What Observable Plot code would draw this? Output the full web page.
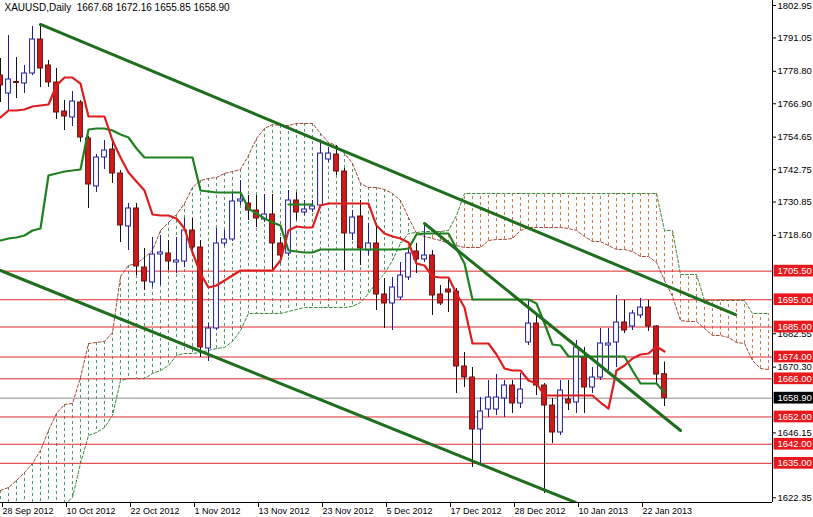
<!DOCTYPE html>
<html><head><meta charset="utf-8">
<script src="https://cdn.jsdelivr.net/npm/d3@7"></script>
<script src="https://cdn.jsdelivr.net/npm/@observablehq/plot@0.6"></script>
<style>body{margin:0;background:#fff}#chart svg{display:block}</style>
</head><body><div id="chart"></div>
<script>
// ---- data (bar index 0 = 28 Sep 2012, one bar per trading day) ----
const symbol = "XAUUSD,Daily";
const tickBars = [0, 8, 16, 24, 32, 40, 48, 56, 64, 72, 80];
const tickLabels = ["28 Sep 2012","10 Oct 2012","22 Oct 2012","1 Nov 2012","13 Nov 2012","23 Nov 2012","5 Dec 2012","17 Dec 2012","28 Dec 2012","10 Jan 2013","22 Jan 2013"];
const priceTicks = [1802.95,1791.05,1778.80,1766.90,1754.65,1742.75,1730.85,1718.60,1682.55,1670.30,1646.15,1622.35];
const levels = [1705.50,1695.00,1685.00,1674.00,1666.00,1652.00,1642.00,1635.00];
const bid = 1658.90;

const open = [1777.27,1770.66,1774.88,1774.33,1778.00,1790.47,1780.94,1774.70,1764.06,1761.86,
1767.36,1754.16,1736.55,1747.19,1750.12,1741.32,1721.87,1728.48,1706.83,1701.33,
1711.60,1711.97,1708.67,1709.03,1720.41,1714.17,1677.12,1684.46,1715.64,1717.11,
1731.05,1730.31,1727.74,1724.44,1726.28,1715.64,1711.97,1731.41,1727.01,1728.11,
1729.58,1746.45,1748.29,1742.05,1719.31,1725.54,1713.07,1715.64,1696.93,1693.63,
1695.83,1703.17,1712.70,1709.77,1711.24,1696.93,1698.76,1698.03,1670.52,1666.48,
1647.41,1654.74,1654.74,1658.78,1663.55,1656.94,1679.32,1686.29,1663.55,1656.21,
1646.31,1658.41,1657.31,1673.82,1662.81,1666.48,1678.22,1679.32,1686.66,1685.19,
1689.23,1692.16,1685.19,1667.68];
const high = [1783.50,1791.94,1783.87,1780.94,1795.24,1795.98,1782.77,1779.83,1768.10,1771.40,
1768.10,1754.89,1748.29,1753.42,1753.42,1742.42,1730.31,1730.31,1713.80,1717.84,
1718.57,1716.74,1717.84,1724.81,1724.81,1716.74,1686.29,1721.14,1720.41,1734.35,
1738.75,1733.25,1733.25,1733.61,1733.61,1717.84,1735.08,1734.35,1731.41,1731.41,
1753.42,1750.85,1751.59,1743.15,1727.74,1731.41,1722.97,1722.97,1702.80,1703.17,
1708.67,1714.17,1715.64,1722.97,1713.07,1700.23,1703.17,1699.13,1675.65,1670.15,
1659.14,1665.38,1667.58,1665.38,1665.38,1667.95,1694.73,1689.23,1664.28,1658.78,
1665.38,1665.38,1680.05,1677.49,1670.15,1684.46,1684.46,1696.56,1694.73,1691.06,
1695.46,1694.73,1685.56,1672.16];
const low = [1767.36,1764.43,1768.83,1770.66,1777.27,1772.86,1772.86,1761.13,1757.09,1758.56,
1752.69,1728.48,1734.35,1742.78,1737.65,1716.01,1713.07,1703.90,1698.40,1699.50,
1700.23,1705.73,1704.63,1706.83,1713.07,1673.82,1672.35,1683.72,1714.54,1716.37,
1729.58,1724.08,1721.51,1723.34,1705.73,1708.30,1710.87,1724.08,1725.91,1727.01,
1728.84,1745.35,1740.58,1705.73,1716.74,1707.57,1711.24,1691.06,1684.46,1683.72,
1694.73,1702.06,1704.63,1708.67,1689.23,1692.89,1690.33,1660.61,1662.81,1633.47,
1634.93,1651.81,1652.54,1651.81,1653.28,1655.11,1678.22,1659.88,1623.93,1642.27,
1645.20,1654.38,1653.28,1653.28,1660.61,1665.38,1669.05,1670.15,1682.62,1683.72,
1688.12,1683.36,1664.28,1655.85];
const close = [1773.60,1775.80,1774.52,1778.00,1790.47,1779.83,1774.70,1763.69,1762.23,1767.73,
1754.52,1737.28,1747.19,1749.75,1741.32,1722.24,1728.48,1707.20,1701.70,1711.60,
1712.34,1709.03,1709.40,1720.41,1714.17,1677.49,1684.46,1715.64,1717.11,1731.05,
1731.78,1727.74,1724.81,1726.28,1715.64,1711.24,1731.41,1727.01,1728.11,1729.21,
1748.65,1748.65,1742.05,1719.31,1725.18,1713.80,1715.64,1696.93,1693.63,1699.50,
1703.90,1711.97,1709.77,1711.24,1696.56,1693.63,1697.66,1670.52,1666.48,1647.41,
1654.01,1659.14,1659.14,1663.55,1656.94,1662.08,1686.29,1663.55,1656.21,1646.31,
1661.71,1656.94,1677.49,1662.81,1666.48,1678.95,1678.95,1686.66,1683.72,1689.96,
1692.16,1685.19,1667.58,1658.90];

const tenkan = [1761.86,1764.43,1764.43,1764.79,1765.89,1766.26,1766.63,1773.60,1776.53,1776.53,
1774.33,1762.23,1762.23,1762.23,1753.42,1747.19,1741.68,1738.38,1735.08,1726.28,
1725.91,1725.91,1724.81,1721.14,1712.34,1704.63,1699.50,1700.23,1702.06,1703.90,
1705.73,1705.73,1705.73,1705.73,1705.73,1709.40,1720.41,1721.87,1721.51,1721.51,
1729.58,1730.31,1730.31,1730.31,1730.31,1730.31,1730.31,1722.24,1719.31,1718.21,
1717.47,1716.01,1708.30,1707.57,1703.53,1703.17,1703.17,1697.30,1692.16,1678.95,
1678.95,1678.95,1674.92,1669.78,1669.05,1669.05,1665.38,1664.28,1659.88,1659.88,
1659.88,1659.88,1659.88,1659.88,1659.88,1657.31,1655.11,1669.05,1670.88,1673.45,
1674.92,1675.29,1677.85,1676.02];
const kijun = [1716.74,1717.47,1717.84,1718.57,1720.41,1721.14,1740.58,1741.32,1742.05,1742.42,
1742.78,1757.46,1757.82,1757.82,1757.09,1755.62,1754.52,1750.49,1747.19,1747.19,
1747.19,1747.19,1747.19,1747.19,1747.19,1735.08,1734.71,1734.35,1734.35,1734.35,
1734.35,1728.48,1726.64,1724.81,1723.34,1722.24,1713.07,1712.70,1712.34,1712.34,
1713.44,1713.44,1713.44,1713.44,1713.44,1713.44,1713.44,1713.44,1713.44,1713.44,
1713.44,1713.80,1718.94,1719.31,1719.31,1719.31,1719.31,1713.80,1708.30,1695.09,
1695.09,1695.09,1695.09,1695.09,1695.09,1695.09,1695.09,1693.63,1686.29,1678.59,
1678.22,1674.18,1674.18,1674.18,1674.18,1674.18,1674.18,1674.18,1674.18,1669.05,
1664.28,1664.28,1664.28,1660.98];
const extraBars = [36, 39];
const extraPrices = [1729.94, 1729.94];

const spanA = [1625.03,1626.13,1628.70,1631.63,1634.93,1639.70,1647.04,1653.28,1656.58,1656.94,
1666.48,1678.95,1679.32,1679.69,1682.99,1703.53,1707.57,1708.30,1710.50,1713.07,
1720.41,1723.34,1726.28,1730.31,1736.18,1738.75,1739.48,1739.85,1741.32,1742.05,
1742.78,1747.92,1754.16,1757.82,1759.29,1758.93,1758.93,1759.66,1759.66,1759.66,
1755.99,1752.69,1751.59,1748.65,1744.99,1737.65,1736.18,1736.18,1735.45,1733.98,
1731.41,1725.18,1719.31,1718.21,1717.47,1716.74,1715.64,1714.90,1714.17,1714.17,
1714.17,1716.74,1717.11,1717.11,1717.47,1720.41,1721.51,1721.51,1721.51,1721.51,
1721.51,1721.14,1720.41,1718.21,1716.37,1716.37,1714.90,1713.44,1713.44,1712.70,
1710.87,1710.87,1708.67,1702.06,1696.20,1687.39,1687.02,1687.02,1684.46,1681.89,
1681.89,1681.16,1679.32,1678.95,1672.72,1669.78,1669.42];
const spanB = [1606,1607,1608,1610,1612,1614,1616,1618,1620,1622.46,
1634.93,1645.20,1646.31,1648.14,1652.54,1665.38,1666.11,1666.11,1666.11,1667.95,
1669.05,1670.88,1674.55,1675.29,1675.29,1675.65,1676.39,1677.12,1677.49,1679.69,
1683.72,1689.96,1689.96,1689.96,1689.96,1689.96,1690.69,1691.43,1692.16,1692.16,
1692.16,1692.16,1692.16,1692.16,1692.53,1693.99,1697.30,1701.33,1704.63,1709.40,
1715.64,1719.31,1719.67,1720.04,1720.04,1720.04,1720.41,1725.91,1733.98,1733.98,
1733.98,1733.98,1733.98,1733.98,1733.98,1733.98,1733.98,1733.98,1733.98,1733.98,
1733.98,1733.98,1733.98,1733.98,1733.98,1733.98,1733.98,1733.98,1733.98,1733.98,
1733.98,1733.98,1733.98,1720.41,1720.41,1704.27,1704.27,1704.27,1694.73,1694.73,
1694.73,1694.73,1694.73,1694.73,1689.96,1689.96,1689.96];

const trendUpperBars = [5, 91.875], trendUpperPrices = [1795.98, 1689.59];
const trendLowerBars = [0, 71.875], trendLowerPrices = [1705.73, 1620.63];
const trendMidBars = [53, 85], trendMidPrices = [1722.97, 1647.04];

// ---- build ----
const candles = open.map((o, i) => ({i, o, h: high[i], l: low[i], c: close[i], up: close[i] > o}));
const cloud = spanA.map((a, i) => ({i, a, b: spanB[i]}));
const pts = (bars, prices) => bars.map((b, k) => ({b, p: prices[k]}));
const last = candles.length - 1;
const title = `${symbol}\u00a0\u00a0${open[last].toFixed(2)} ${high[last].toFixed(2)} ${low[last].toFixed(2)} ${close[last].toFixed(2)}`;

const XMAX = 96.5, YMIN = 1620.63, YMAX = 1804.78;
const BLUE = "#1c1c9c", REDB = "#cc1c1c", LEVEL = "#e0282c", TGREEN = "#1e6e1e";

const chart = Plot.plot({
  width: 813, height: 517,
  marginLeft: 0, marginRight: 41, marginTop: 0, marginBottom: 15,
  style: {fontFamily: "'Liberation Sans', Arial, sans-serif", fontSize: "9.5px", background: "#fff", color: "#000", overflow: "visible"},
  x: {domain: [0, XMAX], axis: null},
  y: {domain: [YMIN, YMAX], axis: null},
  marks: [
    // cloud hatching
    Plot.ruleX(cloud.filter(d => d.a >= d.b), {x: "i", y1: "a", y2: "b", stroke: "#4c9a72", strokeWidth: 1, strokeDasharray: "3,3", clip: true}),
    Plot.ruleX(cloud.filter(d => d.a < d.b), {x: "i", y1: "a", y2: "b", stroke: "#cc7a50", strokeWidth: 1, strokeDasharray: "3,3", clip: true}),
    Plot.line(cloud, {x: "i", y: "a", stroke: "#a8483a", strokeWidth: 1, strokeDasharray: "3,2", clip: true}),
    Plot.line(cloud, {x: "i", y: "b", stroke: "#3a8c3a", strokeWidth: 1, strokeDasharray: "3,2", clip: true}),
    // levels
    Plot.ruleY(levels, {stroke: LEVEL, strokeWidth: 1}),
    Plot.ruleY([bid], {stroke: "#8c8c8c", strokeWidth: 1}),
    // candles
    Plot.ruleX(candles.filter(d => d.up), {x: "i", y1: "l", y2: "h", stroke: BLUE, strokeWidth: 1, clip: true}),
    Plot.ruleX(candles.filter(d => !d.up), {x: "i", y1: "l", y2: "h", stroke: "#111", strokeWidth: 1, clip: true}),
    Plot.rect(candles.filter(d => d.up), {x1: d => d.i - 0.3, x2: d => d.i + 0.3, y1: "o", y2: "c", fill: "#fff", stroke: BLUE, strokeWidth: 1, clip: true}),
    Plot.rect(candles.filter(d => !d.up), {x1: d => d.i - 0.3, x2: d => d.i + 0.3, y1: "o", y2: "c", fill: REDB, stroke: "#6a1010", strokeWidth: 1, clip: true}),
    // ichimoku lines
    Plot.line(kijun, {x: (d, i) => i, y: d => d, stroke: "#1f801f", strokeWidth: 2.2, clip: true}),
    Plot.line(pts(extraBars, extraPrices), {x: "b", y: "p", stroke: "#1f801f", strokeWidth: 2.2, clip: true}),
    Plot.line(tenkan, {x: (d, i) => i, y: d => d, stroke: "#dc1e1e", strokeWidth: 2.2, clip: true}),
    // trend lines
    Plot.line(pts(trendUpperBars, trendUpperPrices), {x: "b", y: "p", stroke: TGREEN, strokeWidth: 3, clip: true}),
    Plot.line(pts(trendLowerBars, trendLowerPrices), {x: "b", y: "p", stroke: TGREEN, strokeWidth: 3, clip: true}),
    Plot.line(pts(trendMidBars, trendMidPrices), {x: "b", y: "p", stroke: TGREEN, strokeWidth: 3, clip: true}),
    // axes
    Plot.ruleX([XMAX], {stroke: "#000", strokeWidth: 1}),
    Plot.ruleY([YMIN], {stroke: "#000", strokeWidth: 1}),
    Plot.axisX({ticks: tickBars, tickFormat: d => tickLabels[tickBars.indexOf(d)], anchor: "bottom", tickSize: 5, tickPadding: 0, textAnchor: "start", dx: 2, fontSize: 9}),
    Plot.axisY({ticks: priceTicks, tickFormat: d => d.toFixed(2), anchor: "right", tickSize: 3, tickPadding: 2, fontSize: 9.5}),
    // price labels
    Plot.rect(levels, {x1: () => XMAX + 0.2, x2: () => XMAX + 5.2, y1: d => d - 2.15, y2: d => d + 2.15, fill: "#e8181c"}),
    Plot.text(levels, {x: () => XMAX, y: d => d, text: d => d.toFixed(2), dx: 5, textAnchor: "start", fill: "#fff", fontSize: 9.5}),
    Plot.rect([bid], {x1: () => XMAX + 0.2, x2: () => XMAX + 5.2, y1: d => d - 2.15, y2: d => d + 2.15, fill: "#000"}),
    Plot.text([bid], {x: () => XMAX, y: d => d, text: d => d.toFixed(2), dx: 5, textAnchor: "start", fill: "#fff", fontSize: 9.5}),
    // title
    Plot.text([title], {frameAnchor: "top-left", dx: 4, dy: 3, textAnchor: "start", lineAnchor: "top", fontSize: 10, fill: "#000"})
  ]
});
document.getElementById("chart").appendChild(chart);
</script>
</body></html>
